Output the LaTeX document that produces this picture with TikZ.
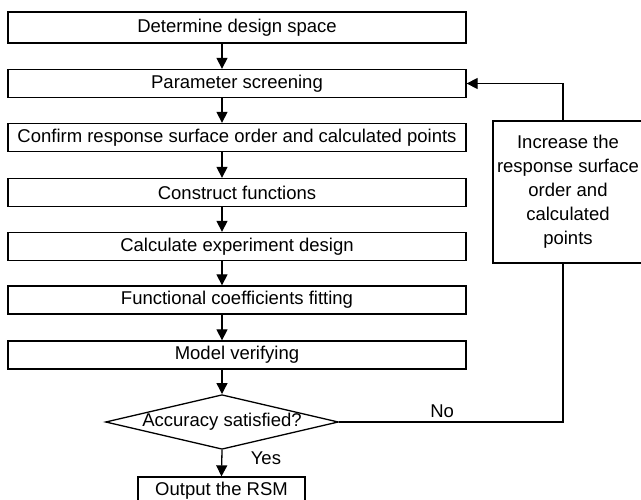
\documentclass[tikz,border=0pt]{standalone}
\usepackage{fontspec}
\setmainfont{Liberation Sans}
\usetikzlibrary{arrows.meta}
\usetikzlibrary{shapes.geometric}

\begin{document}
\begin{tikzpicture}[
    x=1pt, y=-1pt,
    >={Triangle[length=11pt, width=11pt]},
    stepbox/.style={draw, line width=1.3pt, minimum width=458pt, minimum height=28pt, inner sep=0pt, font=\fontsize{18.5}{21}\selectfont},
    decision/.style={diamond, draw, line width=1.3pt, minimum width=230pt, minimum height=54pt, aspect=4.26, inner sep=0pt, font=\fontsize{18.5}{21}\selectfont},
    flow/.style={->, line width=1.3pt},
    tag/.style={font=\fontsize{18.5}{21}\selectfont}
]
\useasboundingbox (0,0) rectangle (641,500);

% --- Main chain of steps ---
\node[stepbox, minimum height=31pt] (s1) at (237, 27.5) {Determine design space};
\node[stepbox] (s2) at (237, 83.5) {Parameter screening};
\node[stepbox] (s3) at (237, 137.5) {Confirm response surface order and calculated points};
\node[stepbox] (s4) at (237, 192.5) {Construct functions};
\node[stepbox] (s5) at (237, 246.5) {Calculate experiment design};
\node[stepbox] (s6) at (237, 300) {Functional coefficients fitting};
\node[stepbox] (s7) at (237, 355) {Model verifying};

% Axis of the downward arrows
\coordinate (ax) at (222, 0);

\node[decision] (acc) at (222, 422) {Accuracy satisfied?};
\node[stepbox, minimum width=167pt, minimum height=27pt] (out) at (221.5, 490.5) {Output the RSM};

% --- Feedback box ---
\node[stepbox, minimum width=150pt, minimum height=142pt, align=center, font=\fontsize{18.5}{24}\selectfont] (inc) at (568, 192) {Increase the\\response surface\\order and\\calculated\\points};
\coordinate (fb) at (563, 84);

% Downward arrows
\foreach \a/\b in {s1/s2, s2/s3, s3/s4, s4/s5, s5/s6, s6/s7}
    \draw[flow] (\a.south -| ax) -- (\b.north -| ax);
\draw[flow] (s7.south -| ax) -- (acc.north);
\draw[flow] (acc.south) -- node[pos=0.3, right=25pt, tag] {Yes} (out.north);

% Loop back when accuracy is not reached
\draw[line width=1.3pt] (acc.east) -| node[pos=0.23, above, tag] {No} (inc.south -| fb);
\draw[flow] (inc.north -| fb) |- (s2.east);

\end{tikzpicture}
\end{document}
